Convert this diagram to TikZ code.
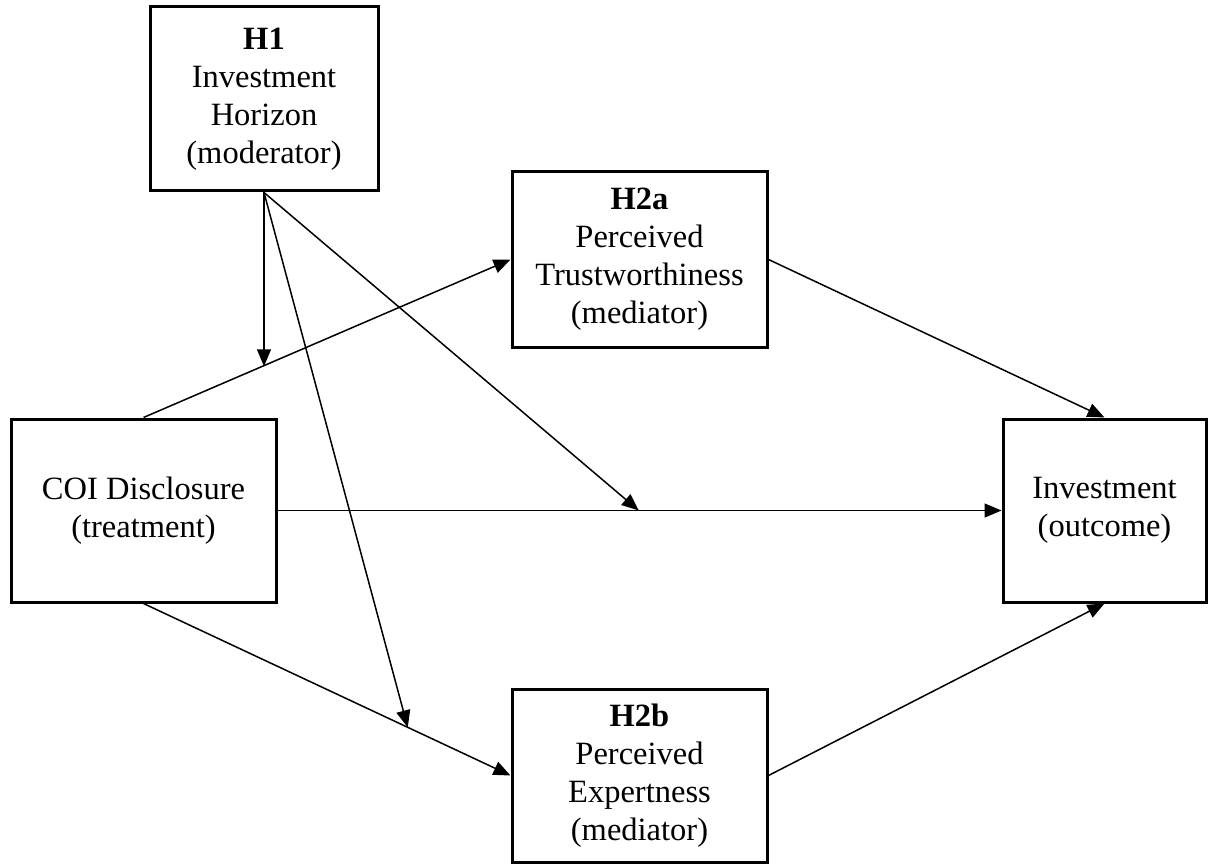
\documentclass[tikz,border=0pt]{standalone}
\usepackage{fontspec}
\setmainfont{Liberation Serif}
\usetikzlibrary{arrows.meta,calc}
\begin{document}
\begin{tikzpicture}[x=1pt,y=-1pt,
  box/.style={draw=black,line width=3pt,align=center,inner sep=0pt,
    font=\fontsize{32.5}{38}\selectfont},
  conn/.style={line width=1.5pt,-{Triangle[length=17pt,width=14pt]}}]
\useasboundingbox (0,0) rectangle (1211,864);
\node[box,minimum width=228pt,minimum height=184pt] (H1) at (264,99)
  {\textbf{H1}\\Investment\\Horizon\\(moderator)};
\node[box,minimum width=255pt,minimum height=175pt] (H2a) at (639.5,259.5)
  {\textbf{H2a}\\Perceived\\Trustworthiness\\(mediator)};
\node[box,minimum width=265pt,minimum height=183pt] (COI) at (143.5,510.5)
  {COI Disclosure\\(treatment)};
\node[box,minimum width=203pt,minimum height=183pt] (Inv) at (1104.5,510.5)
  {Investment\\(outcome)};
\node[box,minimum width=255pt,minimum height=173pt] (H2b) at (639.5,775.5)
  {\textbf{H2b}\\Perceived\\Expertness\\(mediator)};
\coordinate (m1) at ($(COI.north)!0.324!(H2a.west)$);
\coordinate (m2) at ($(COI.south)!0.72!(H2b.west)$);
\coordinate (m3) at ($(COI.east)!0.499!(Inv.west)$);
\draw[conn] (COI.north) -- (H2a.west);
\draw[conn] (COI.south) -- (H2b.west);
\draw[conn] (COI.east) -- (Inv.west);
\draw[conn] (H2a.east) -- (Inv.north);
\draw[conn] (H2b.east) -- (Inv.south);
\draw[conn] (H1.south) -- (H1.south |- m1);
\draw[conn] (H1.south) -- (m2);
\draw[conn] (H1.south) -- (m3);
\end{tikzpicture}
\end{document}
